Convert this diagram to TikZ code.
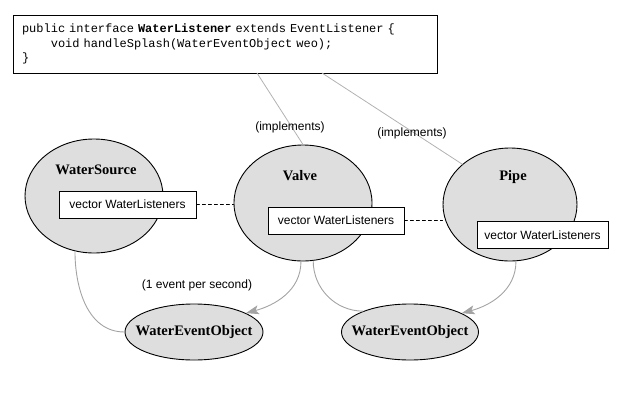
\documentclass[tikz,border=0pt]{standalone}
\usepackage{fontspec}
\usetikzlibrary{arrows.meta,shapes.geometric}
\newfontfamily\labelfont{Liberation Sans}
\newfontfamily\namefont{Liberation Serif}
\newfontfamily\codefont{Liberation Mono}
\definecolor{fillE}{rgb}{0.87,0.87,0.87}
\definecolor{lineG}{rgb}{0.64,0.64,0.64}
\definecolor{lineL}{rgb}{0.70,0.70,0.70}

\begin{document}
\begin{tikzpicture}[x=1pt, y=-1pt, line cap=round,
  cls/.style={ellipse, draw, fill=fillE, line width=0.9pt, inner sep=0pt},
  clsname/.style={font=\namefont\bfseries\fontsize{14.5}{17}\selectfont},
  vec/.style={draw, fill=white, line width=0.8pt, minimum height=27pt,
    font=\labelfont\fontsize{12}{14}\selectfont},
  lbl/.style={font=\labelfont\fontsize{12}{14}\selectfont},
  impl/.style={draw=lineL, line width=0.8pt},
  flow/.style={draw=lineG, line width=0.9pt},
  tip/.style={-{Stealth[length=13pt, width=9pt, inset=3pt, fill=lineG]}},
  listen/.style={dashed, line width=0.8pt}]
\useasboundingbox (0,0) rectangle (621,402);
% ---------- interface ----------
\node[draw, line width=0.8pt, minimum width=424pt, minimum height=58pt,
  inner xsep=9pt, text width=406pt, align=left,
  font=\codefont\fontsize{12}{14.5}\selectfont] (code) at (225,44)
  {public interface {\bfseries WaterListener} extends EventListener \{\\
   \phantom{void}void handleSplash(WaterEventObject weo);\\
   \}};
\coordinate (i1) at (257,73);
\coordinate (i2) at (322,73);
% ---------- classes ----------
\node[cls, minimum width=138pt, minimum height=114pt] (ws) at (94,196) {};
\node[cls, minimum width=138pt, minimum height=116pt] (valve) at (303,203) {};
\node[cls, minimum width=134pt, minimum height=113pt] (pipe) at (510,204.5) {};
\node[clsname] (wsname) at (96,170) {WaterSource};
\node[clsname] (valvename) at (300,176) {Valve};
\node[clsname] (pipename) at (513,177) {Pipe};
% listener vectors
\node[vec, minimum width=137pt] (wsvec) at (127.5,204.5) {vector WaterListeners};
\node[vec, minimum width=136pt] (valvevec) at (336,220.5) {vector WaterListeners};
\node[vec, minimum width=131pt] (pipevec) at (542.5,235) {vector WaterListeners};
\draw[listen] (wsvec.east) -- (wsvec.east -| valve.west);
\draw[listen] (valvevec.east) -- (valvevec.east -| pipe.west);
% ---------- implements ----------
\draw[impl] (i1) -- (valve.north);
\draw[impl] (i2) -- (pipe.north west);
\node[lbl] (impl1) at (290,127) {(implements)};
\node[lbl] (impl2) at (412,133) {(implements)};
% ---------- events ----------
\node[cls, minimum width=138pt, minimum height=56pt] (weo1) at (194,332) {};
\node[cls, minimum width=137pt, minimum height=56pt] (weo2) at (410,332) {};
\node[clsname] (weo1name) at (weo1) {WaterEventObject};
\node[clsname] (weo2name) at (weo2) {WaterEventObject};
\node[lbl] (rate) at (197,285) {(1 event per second)};
\draw[flow] (ws.251) to[out=-90, in=180] (weo1.west);
\draw[flow, tip] (valve.268) to[out=-90, in=15] (weo1.20);
\draw[flow] (valve.280) to[out=-90, in=180] (weo2.156);
\draw[flow, tip] (pipe.276) to[out=-90, in=15] (weo2.20);
\end{tikzpicture}
\end{document}
